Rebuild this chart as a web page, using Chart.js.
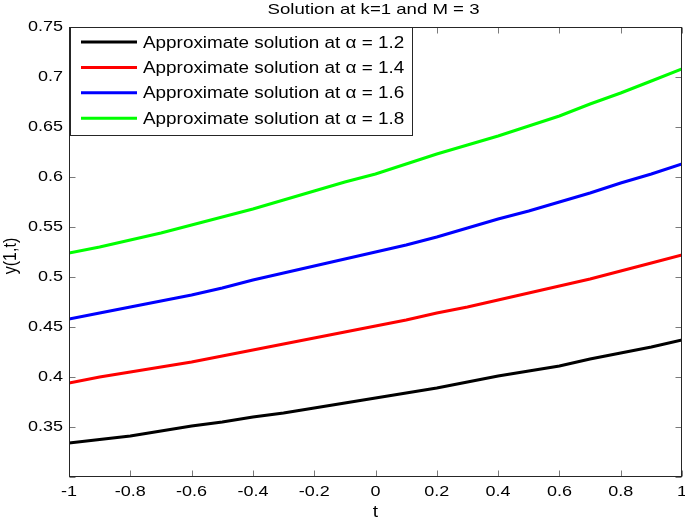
<!DOCTYPE html>
<html><head><meta charset="utf-8">
<script src="https://cdn.jsdelivr.net/npm/chart.js@4"></script>
<style>html,body{margin:0;padding:0;background:#fff;} canvas{display:block;}</style>
</head><body>
<canvas id="c" width="685" height="520"></canvas>
<script>
const titleText = 'Solution at k=1 and M = 3';
const xAxisTitle = 't';
const yAxisTitle = 'y(1,t)';
const tValues = [-1, -0.9, -0.8, -0.7, -0.6, -0.5, -0.4, -0.3, -0.2, -0.1, 0, 0.1, 0.2, 0.3, 0.4, 0.5, 0.6, 0.7, 0.8, 0.9, 1];
const alphaLabels = ['1.2', '1.4', '1.6', '1.8'];
const yAlpha12 = [0.334, 0.3375, 0.341, 0.346, 0.351, 0.355, 0.360, 0.364, 0.369, 0.374, 0.379, 0.384, 0.389, 0.395, 0.401, 0.406, 0.411, 0.418, 0.424, 0.430, 0.437];
const yAlpha14 = [0.394, 0.400, 0.405, 0.410, 0.415, 0.421, 0.427, 0.433, 0.439, 0.445, 0.451, 0.457, 0.464, 0.470, 0.477, 0.484, 0.491, 0.498, 0.506, 0.514, 0.522];
const yAlpha16 = [0.458, 0.464, 0.470, 0.476, 0.482, 0.489, 0.497, 0.504, 0.511, 0.518, 0.525, 0.532, 0.540, 0.549, 0.558, 0.566, 0.575, 0.584, 0.594, 0.603, 0.613];
const yAlpha18 = [0.524, 0.530, 0.537, 0.544, 0.552, 0.560, 0.568, 0.577, 0.586, 0.595, 0.603, 0.613, 0.623, 0.632, 0.641, 0.651, 0.661, 0.673, 0.684, 0.696, 0.708];
const seriesValues = [yAlpha12, yAlpha14, yAlpha16, yAlpha18];
const seriesColors = ['#000000', '#ff0000', '#0000ff', '#00ff00'];
const xMin = -1, xMax = 1, xStep = 0.2;
const yMin = 0.3, yMax = 0.75, yStep = 0.05;

const FONT = '"Liberation Sans", Arial, Helvetica, sans-serif';

function sText(ctx, text, x, y, size, align, baseline, sx) {
  ctx.save();
  ctx.font = size + 'px ' + FONT;
  ctx.textAlign = align;
  ctx.textBaseline = baseline;
  ctx.fillStyle = '#000';
  ctx.translate(x, y);
  ctx.scale(sx, 1);
  ctx.fillText(text, 0, 0);
  ctx.restore();
}
function fmt(v) { return String(Math.round(v * 100) / 100); }

const overlay = {
  id: 'overlay',
  afterDatasetsDraw(chart) {
    const ctx = chart.ctx;
    const a = chart.chartArea;
    const xs = chart.scales.x, ys = chart.scales.y;
    const L = a.left + 0.5, R = a.right - 0.5, T = a.top + 0.5, B = a.bottom - 0.5;
    ctx.save();
    ctx.strokeStyle = '#7a7a7a';
    ctx.lineWidth = 1;
    ctx.beginPath();
    xs.ticks.forEach(t => {
      const px = Math.round(xs.getPixelForValue(t.value)) + 0.5;
      ctx.moveTo(px, B); ctx.lineTo(px, B - 6);
      ctx.moveTo(px, T); ctx.lineTo(px, T + 6);
    });
    ys.ticks.forEach(t => {
      const py = Math.round(ys.getPixelForValue(t.value)) + 0.5;
      ctx.moveTo(L, py); ctx.lineTo(L + 6, py);
      ctx.moveTo(R, py); ctx.lineTo(R - 6, py);
    });
    ctx.stroke();
    ctx.strokeStyle = '#262626';
    ctx.strokeRect(L, T, R - L, B - T);
    ctx.restore();

    xs.ticks.forEach(t => {
      sText(ctx, fmt(t.value), xs.getPixelForValue(t.value), 492, 15, 'center', 'middle', 1.2);
    });
    ys.ticks.forEach(t => {
      if (t.value < yMin + 1e-6) return;
      sText(ctx, fmt(t.value), 63, ys.getPixelForValue(t.value), 15, 'right', 'middle', 1.2);
    });

    sText(ctx, titleText, 373.5, 13.5, 15, 'center', 'alphabetic', 1.24);
    sText(ctx, xAxisTitle, (a.left + a.right) / 2, 517, 16, 'center', 'alphabetic', 1.2);
    ctx.save();
    ctx.translate(11, 256);
    ctx.rotate(-Math.PI / 2);
    ctx.scale(1, 1.15);
    ctx.font = '16px ' + FONT;
    ctx.textAlign = 'center';
    ctx.textBaseline = 'middle';
    ctx.fillStyle = '#000';
    ctx.fillText(yAxisTitle, 0, 0);
    ctx.restore();

    ctx.save();
    ctx.fillStyle = '#fff';
    ctx.strokeStyle = '#262626';
    ctx.lineWidth = 1;
    ctx.fillRect(70.5, T, 342, 108);
    ctx.strokeRect(70.5, T, 342, 108);
    chart.data.datasets.forEach((ds, i) => {
      const ly = 42 + i * 25.4;
      ctx.strokeStyle = ds.borderColor;
      ctx.lineWidth = 3;
      ctx.beginPath();
      ctx.moveTo(81, ly); ctx.lineTo(137, ly);
      ctx.stroke();
      sText(ctx, ds.label, 143, ly + 5.5, 16, 'left', 'alphabetic', 1.18);
    });
    ctx.restore();
  }
};

const datasets = seriesValues.map((vals, i) => ({
  label: 'Approximate solution at \u03B1 = ' + alphaLabels[i],
  data: tValues.map((t, j) => ({ x: t, y: vals[j] })),
  borderColor: seriesColors[i],
  backgroundColor: seriesColors[i],
  borderWidth: 3,
  pointRadius: 0,
  tension: 0,
  fill: false
}));

new Chart(document.getElementById('c').getContext('2d'), {
  type: 'line',
  data: { datasets },
  options: {
    responsive: false,
    animation: false,
    devicePixelRatio: 1,
    layout: { padding: { top: 27, right: 3, left: 0, bottom: 0 } },
    plugins: { legend: { display: false }, title: { display: false }, tooltip: { enabled: false } },
    scales: {
      x: {
        type: 'linear', min: xMin, max: xMax,
        ticks: { stepSize: xStep, display: false },
        grid: { display: false }, border: { display: false },
        afterFit(s) { s.height = 43; s.paddingLeft = 0; s.paddingRight = 0; }
      },
      y: {
        type: 'linear', min: yMin, max: yMax,
        ticks: { stepSize: yStep, display: false },
        grid: { display: false }, border: { display: false },
        afterFit(s) { s.width = 69; s.paddingTop = 0; s.paddingBottom = 0; }
      }
    }
  },
  plugins: [overlay]
});
</script>
</body></html>
